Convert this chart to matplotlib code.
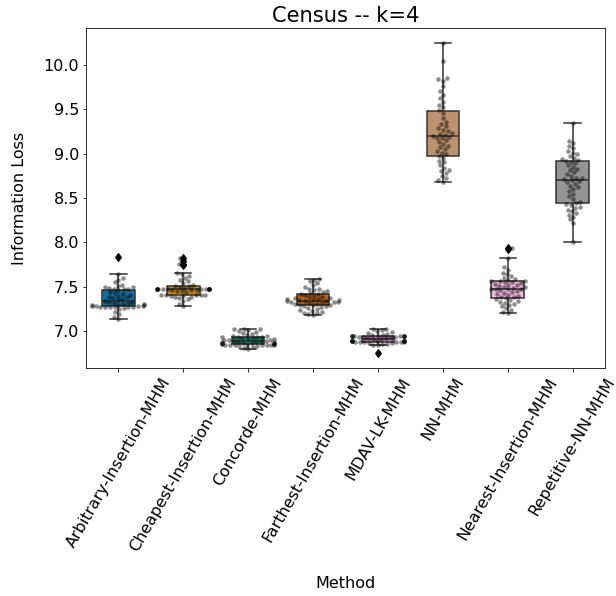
import numpy as np
import matplotlib
matplotlib.use('Agg')
import matplotlib.pyplot as plt
import pandas as pd
import seaborn as sns

METHODS = [
    'Arbitrary-Insertion-MHM',
    'Cheapest-Insertion-MHM',
    'Concorde-MHM',
    'Farthest-Insertion-MHM',
    'MDAV-LK-MHM',
    'NN-MHM',
    'Nearest-Insertion-MHM',
    'Repetitive-NN-MHM',
]

# Information loss of each run, k=4
arbitrary_insertion = [
    7.14, 7.16, 7.19, 7.22, 7.25, 7.26, 7.27, 7.27, 7.27, 7.27, 7.27, 7.27, 7.28,
    7.28, 7.28, 7.28, 7.29, 7.30, 7.30, 7.31, 7.31, 7.32, 7.32, 7.33, 7.33,
    7.34, 7.35, 7.36, 7.37, 7.38, 7.39, 7.40, 7.41, 7.42, 7.43, 7.44, 7.46,
    7.47, 7.48, 7.48, 7.49, 7.50, 7.50, 7.51, 7.52, 7.55, 7.58, 7.60, 7.64, 7.83,
]
cheapest_insertion = [
    7.28, 7.31, 7.34, 7.36, 7.37, 7.38, 7.39, 7.40, 7.40, 7.41, 7.41, 7.41, 7.41,
    7.41, 7.44, 7.45, 7.45, 7.46, 7.46, 7.46, 7.47, 7.47, 7.47, 7.47, 7.47,
    7.47, 7.47, 7.47, 7.47, 7.47, 7.47, 7.47, 7.47, 7.48, 7.49, 7.50, 7.51,
    7.51, 7.52, 7.54, 7.56, 7.58, 7.60, 7.62, 7.64, 7.65, 7.74, 7.76, 7.79, 7.82,
]
concorde = [
    6.80, 6.81, 6.82, 6.83, 6.83, 6.84, 6.84, 6.84, 6.85, 6.85, 6.85, 6.85, 6.85,
    6.86, 6.86, 6.86, 6.86, 6.87, 6.87, 6.87, 6.87, 6.88, 6.88, 6.88, 6.88,
    6.89, 6.89, 6.89, 6.90, 6.90, 6.90, 6.91, 6.91, 6.92, 6.92, 6.93, 6.93,
    6.93, 6.94, 6.95, 6.95, 6.96, 6.97, 6.98, 6.99, 7.00, 7.01, 7.02, 7.02, 7.03,
]
farthest_insertion = [
    7.18, 7.19, 7.20, 7.21, 7.22, 7.23, 7.24, 7.25, 7.26, 7.27, 7.28, 7.28, 7.29,
    7.30, 7.30, 7.31, 7.31, 7.32, 7.32, 7.33, 7.33, 7.33, 7.34, 7.34, 7.34,
    7.35, 7.35, 7.35, 7.36, 7.36, 7.37, 7.37, 7.38, 7.39, 7.40, 7.41, 7.42,
    7.42, 7.43, 7.44, 7.45, 7.46, 7.47, 7.48, 7.50, 7.52, 7.54, 7.56, 7.58, 7.59,
]
mdav_lk = [
    6.76, 6.84, 6.85, 6.86, 6.86, 6.87, 6.87, 6.88, 6.88, 6.88, 6.88, 6.88, 6.88,
    6.89, 6.89, 6.89, 6.89, 6.89, 6.89, 6.89, 6.89, 6.90, 6.90, 6.91, 6.91,
    6.92, 6.92, 6.93, 6.93, 6.94, 6.94, 6.95, 6.95, 6.95, 6.95, 6.95, 6.95,
    6.95, 6.95, 6.95, 6.95, 6.96, 6.96, 6.97, 6.98, 6.99, 7.00, 7.01, 7.02, 7.03,
]
nn = [
    8.68, 8.70, 8.72, 8.75, 8.78, 8.80, 8.82, 8.84, 8.87, 8.90, 8.92, 8.95, 8.97,
    8.99, 9.01, 9.03, 9.05, 9.07, 9.09, 9.11, 9.13, 9.15, 9.17, 9.18, 9.19,
    9.20, 9.21, 9.22, 9.23, 9.25, 9.27, 9.29, 9.31, 9.33, 9.36, 9.40, 9.46,
    9.49, 9.52, 9.55, 9.58, 9.62, 9.66, 9.70, 9.76, 9.82, 9.84, 9.85, 10.04, 10.24,
]
nearest_insertion = [
    7.20, 7.22, 7.24, 7.26, 7.28, 7.30, 7.31, 7.32, 7.33, 7.34, 7.35, 7.36, 7.37,
    7.38, 7.39, 7.40, 7.41, 7.42, 7.43, 7.44, 7.45, 7.46, 7.47, 7.47, 7.48,
    7.48, 7.49, 7.50, 7.50, 7.51, 7.52, 7.52, 7.53, 7.54, 7.55, 7.55, 7.56,
    7.56, 7.57, 7.58, 7.59, 7.60, 7.62, 7.64, 7.66, 7.69, 7.72, 7.82, 7.92, 7.94,
]
repetitive_nn = [
    8.00, 8.22, 8.26, 8.29, 8.31, 8.33, 8.35, 8.37, 8.39, 8.40, 8.42, 8.43, 8.44,
    8.46, 8.49, 8.52, 8.55, 8.58, 8.60, 8.62, 8.64, 8.66, 8.68, 8.69, 8.70,
    8.71, 8.72, 8.73, 8.75, 8.77, 8.79, 8.81, 8.83, 8.85, 8.87, 8.89, 8.91,
    8.92, 8.93, 8.94, 8.95, 8.97, 8.99, 9.01, 9.03, 9.06, 9.09, 9.12, 9.14, 9.34,
]

LOSSES = [
    arbitrary_insertion, cheapest_insertion, concorde, farthest_insertion,
    mdav_lk, nn, nearest_insertion, repetitive_nn,
]


def main():
    data = pd.DataFrame({
        'Method': np.repeat(METHODS, [len(v) for v in LOSSES]),
        'Information Loss': np.concatenate(LOSSES),
    })

    fig = plt.figure(figsize=(616 / 72, 596 / 72), dpi=72)
    ax = fig.add_axes([0.1396, 0.3826, 0.8425, 0.5705])

    # Boxes
    sns.boxplot(
        data=data, x='Method', y='Information Loss', hue='Method',
        order=METHODS, hue_order=METHODS, palette='colorblind',
        width=0.5, linewidth=1.5, legend=False, ax=ax,
        flierprops={'marker': 'd', 'markerfacecolor': 'k', 'markeredgecolor': 'k', 'markersize': 6},
    )

    # Individual runs
    sns.swarmplot(
        data=data, x='Method', y='Information Loss', order=METHODS,
        color='k', alpha=0.45, size=4.5, ax=ax,
    )

    ax.set_title('Census -- k=4', fontsize=21)

    # Y axis
    ax.set_ylabel('Information Loss', fontsize=16, labelpad=16)
    ax.set_yticks(np.arange(7.0, 10.01, 0.5))
    ax.tick_params(axis='y', labelsize=16)

    # X axis
    ax.set_xlabel('Method', fontsize=16, labelpad=22)
    ax.tick_params(axis='x', labelsize=16, labelrotation=60)

    fig.savefig('out.png', dpi=72)


if __name__ == '__main__':
    main()
